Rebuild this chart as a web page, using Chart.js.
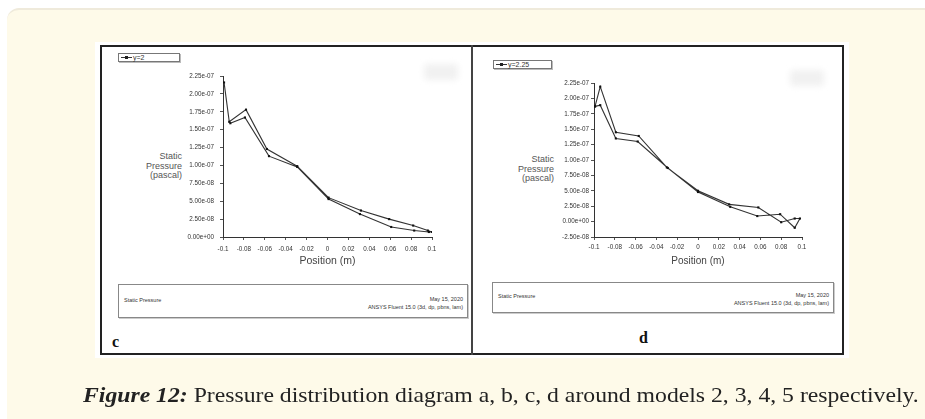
<!DOCTYPE html>
<html lang="en">
<head>
<meta charset="UTF-8">
<title>Figure 12 - Static Pressure</title>
<script src="https://cdn.jsdelivr.net/npm/chart.js"></script>
<style>
  body { margin: 0; width: 925px; height: 419px; background: #fff; position: relative; overflow: hidden; font-family: "Liberation Sans", Arial, sans-serif; }
  .abs { position: absolute; }
  #panel { left: 7px; top: 8px; width: 940px; height: 430px; background: #fefae9; border-top: 2px solid #efeadb; border-top-left-radius: 12px; }
  #sheet { left: 95px; top: 42px; width: 754px; height: 316px; background: #fff; }
  #frame { left: 100px; top: 45px; width: 744px; height: 310px; border: 2px solid #222; box-sizing: border-box; }
  #divider { left: 471px; top: 45px; width: 2px; height: 310px; background: #444; }
  canvas { position: absolute; }
  .legend { border: 1px solid #777; box-shadow: 1px 1px 0 #bbb; background: #fff; font-size: 7px; line-height: 8px; color: #333; box-sizing: border-box; white-space: nowrap; }
  .legend .sym { display: inline-block; position: relative; width: 11px; height: 6px; margin: 0 1px 0 2px; vertical-align: top; }
  .legend .sym::before { content: ""; position: absolute; left: 0; right: 0; top: 3px; border-top: 1px solid #333; }
  .legend .sym::after { content: ""; position: absolute; left: 4px; top: 2px; width: 3px; height: 3px; background: #222; }
  .ytitle { font-size: 9px; line-height: 9.5px; color: #555; text-align: right; }
  .footer { border: 1px solid #888; box-shadow: 1px 1px 0 #ccc; background: #fff; box-sizing: border-box; font-size: 5.5px; line-height: 8px; color: #333; }
  .footer .l { position: absolute; left: 5px; top: 11px; }
  .footer .r { position: absolute; right: 4px; top: 10px; text-align: right; }
  .tag { font-family: "Liberation Serif", serif; font-weight: bold; font-size: 16px; color: #111; }
  .mark { background: #f1f1f1; filter: blur(3px); border-radius: 4px; }
  #caption { left: 83px; top: 382px; font-family: "Liberation Serif", serif; font-size: 22px; line-height: 26px; color: #222; white-space: nowrap; transform-origin: 0 0; }
</style>
</head>
<body>
<div id="panel" class="abs"></div>
<div id="sheet" class="abs"></div>
<div id="frame" class="abs"></div>
<div id="divider" class="abs"></div>

<div class="abs mark" style="left:424px;top:64px;width:34px;height:16px"></div>
<div class="abs mark" style="left:790px;top:70px;width:34px;height:16px"></div>

<div id="legend-c" class="abs legend" style="left:118px;top:53px;width:62px;height:9px"></div>
<div id="legend-d" class="abs legend" style="left:493px;top:60px;width:59px;height:9px"></div>

<div class="abs ytitle" style="left:128px;top:152px;width:54px">Static<br>Pressure<br>(pascal)</div>
<div class="abs ytitle" style="left:500px;top:155px;width:54px">Static<br>Pressure<br>(pascal)</div>

<canvas id="chart-c" width="292" height="201" style="left:150px;top:66px"></canvas>
<canvas id="chart-d" width="291" height="194" style="left:521px;top:73px"></canvas>

<div class="abs footer" style="left:118px;top:284px;width:350px;height:34px">
  <span class="l">Static Pressure</span>
  <span class="r">May 15, 2020<br>ANSYS Fluent 15.0 (3d, dp, pbns, lam)</span>
</div>
<div class="abs footer" style="left:492px;top:282px;width:342px;height:31px">
  <span class="l" style="top:9px">Static Pressure</span>
  <span class="r" style="top:8px">May 15, 2020<br>ANSYS Fluent 15.0 (3d, dp, pbns, lam)</span>
</div>

<div class="abs tag" style="left:112px;top:333px">c</div>
<div class="abs tag" style="left:639px;top:329px">d</div>

<div id="caption" class="abs"><b><i>Figure 12:</i></b> Pressure distribution diagram a, b, c, d around models 2, 3, 4, 5 respectively.</div>

<script>
// x positions (m) and static pressure (Pa) along each line
const labelC = "y=2";
const posC = [-0.099, -0.094, -0.078, -0.058, -0.029, 0.001, 0.032, 0.059, 0.082, 0.096, 0.1,
              0.097, 0.083, 0.061, 0.031, 0.001, -0.029, -0.056, -0.079, -0.093];
const pressC = [21.6e-8, 16.1e-8, 17.8e-8, 12.3e-8, 9.9e-8, 5.5e-8, 3.7e-8, 2.5e-8, 1.6e-8, 0.9e-8, 0.7e-8,
                0.7e-8, 0.9e-8, 1.4e-8, 3.2e-8, 5.3e-8, 9.8e-8, 11.3e-8, 16.7e-8, 15.9e-8];

const labelD = "y=2.25";
const posD = [-0.099, -0.094, -0.079, -0.057, -0.030, 0.0, 0.030, 0.058, 0.080, 0.093, 0.098,
              0.093, 0.079, 0.057, 0.031, 0.0, -0.029, -0.058, -0.079, -0.094, -0.099];
const pressD = [18.7e-8, 21.9e-8, 14.5e-8, 13.9e-8, 8.8e-8, 5.0e-8, 2.8e-8, 2.3e-8, -0.1e-8, 0.5e-8, 0.5e-8,
                -1.0e-8, 1.2e-8, 0.9e-8, 2.4e-8, 4.8e-8, 8.7e-8, 13.0e-8, 13.5e-8, 18.9e-8, 18.7e-8];

const xTicks = [-0.1, -0.08, -0.06, -0.04, -0.02, 0, 0.02, 0.04, 0.06, 0.08, 0.1];
const xTickLabels = ["-0.1", "-0.08", "-0.06", "-0.04", "-0.02", "0", "0.02", "0.04", "0.06", "0.08", "0.1"];
const yTicksC = [0, 2.5e-8, 5e-8, 7.5e-8, 10e-8, 12.5e-8, 15e-8, 17.5e-8, 20e-8, 22.5e-8];
const yTickLabelsC = ["0.00e+00", "2.50e-08", "5.00e-08", "7.50e-08", "1.00e-07", "1.25e-07", "1.50e-07", "1.75e-07", "2.00e-07", "2.25e-07"];
const yTicksD = [-2.5e-8, 0, 2.5e-8, 5e-8, 7.5e-8, 10e-8, 12.5e-8, 15e-8, 17.5e-8, 20e-8, 22.5e-8];
const yTickLabelsD = ["-2.50e-08", "0.00e+00", "2.50e-08", "5.00e-08", "7.50e-08", "1.00e-07", "1.25e-07", "1.50e-07", "1.75e-07", "2.00e-07", "2.25e-07"];

const ink = '#333';
const tickFont = { family: "'Liberation Sans', Arial, sans-serif", size: 6.3 };

function makeChart(id, label, xs, ys, yTicks, yLabels, opts) {
    const points = xs.map((x, i) => ({ x: x, y: ys[i] }));
    return new Chart(document.getElementById(id), {
        type: 'scatter',
        data: {
            datasets: [{
                label: label,
                data: points,
                showLine: true,
                borderColor: ink,
                borderWidth: 1.1,
                pointStyle: 'rect',
                pointRadius: 1.5,
                pointBackgroundColor: '#111',
                pointBorderWidth: 0,
                tension: 0
            }]
        },
        options: {
            responsive: false,
            animation: false,
            layout: { padding: { top: 10, right: 10, left: 0, bottom: 0 } },
            plugins: { legend: { display: false }, tooltip: { enabled: false } },
            scales: {
                x: {
                    type: 'linear',
                    min: -0.1, max: 0.1,
                    afterBuildTicks: s => { s.ticks = xTicks.map(v => ({ value: v })); },
                    afterFit: s => { s.height = 30; },
                    grid: { drawOnChartArea: false, tickLength: 3, color: '#555' },
                    border: { color: ink, width: 1 },
                    ticks: {
                        autoSkip: false, maxRotation: 0, padding: opts.xPad,
                        font: tickFont, color: '#333',
                        callback: (v, i) => xTickLabels[i]
                    },
                    title: {
                        display: true, text: 'Position (m)', color: '#444',
                        font: { family: "'Liberation Sans', Arial, sans-serif", size: opts.titleSize },
                        padding: { top: 0, bottom: 0 }
                    }
                },
                y: {
                    type: 'linear',
                    min: yTicks[0], max: yTicks[yTicks.length - 1],
                    afterBuildTicks: s => { s.ticks = yTicks.map(v => ({ value: v })); },
                    afterFit: s => { s.width = 73; },
                    grid: { drawOnChartArea: false, tickLength: 3, color: '#555' },
                    border: { color: ink, width: 1 },
                    ticks: {
                        autoSkip: false, padding: opts.yPad,
                        font: tickFont, color: '#333',
                        callback: (v, i) => yLabels[i]
                    }
                }
            }
        }
    });
}

makeChart('chart-c', labelC, posC, pressC, yTicksC, yTickLabelsC, { xPad: 5, yPad: 6, titleSize: 10.5 });
makeChart('chart-d', labelD, posD, pressD, yTicksD, yTickLabelsD, { xPad: 3, yPad: 2, titleSize: 10 });

// ANSYS-style legend boxes
function fillLegend(id, text) {
    const el = document.getElementById(id);
    el.innerHTML = '<span class="sym"></span>' + text;
}
fillLegend('legend-c', labelC);
fillLegend('legend-d', labelD);

// squeeze caption to the width it takes in the figure
const cap = document.getElementById('caption');
cap.style.transform = 'scaleX(' + (836 / cap.offsetWidth) + ')';
</script>
</body>
</html>
